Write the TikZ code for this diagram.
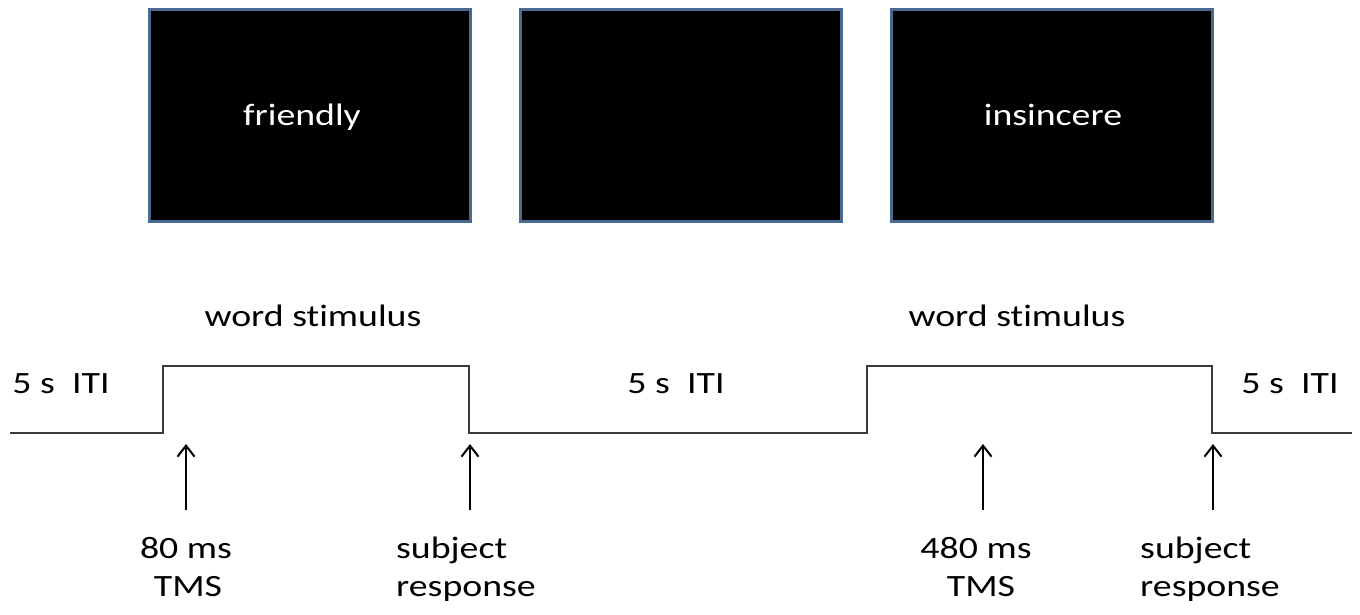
\documentclass[tikz,border=0pt]{standalone}
\usepackage{fontspec}
\usepackage{graphicx}
\setmainfont{Carlito}[Ligatures=NoCommon]
\usetikzlibrary{arrows.meta}
\definecolor{frameblue}{HTML}{4A6A94}
\definecolor{wave}{HTML}{3A3A3A}
% slightly widened lettering
\newcommand{\wide}[1]{\scalebox{1.22}[1]{#1}}
\tikzset{
  screen/.style={draw=frameblue, line width=3pt, fill=black, minimum width=321pt, minimum height=212pt, inner sep=0pt},
  screentext/.style={text=white, font=\fontsize{31}{36}\selectfont, anchor=base, inner sep=0pt},
  lbl/.style={font=\fontsize{31}{36}\selectfont, anchor=base, inner sep=0pt},
  lblleft/.style={lbl, anchor=base west},
  signal/.style={draw=wave, line width=2pt},
  marker/.style={draw=black, line width=2pt, -{Straight Barb[length=11pt, width=17pt, line width=2pt]}},
}
\begin{document}
\begin{tikzpicture}[x=1pt, y=-1pt]
\useasboundingbox (0,0) rectangle (1360,614);

% stimulus screens
\node[screen] (s1) at (310,115) {};
\node[screen] (s2) at (681,115) {};
\node[screen] (s3) at (1052,115) {};
\node[screentext] (w1) at (302,125) {\wide{friendly}};
\node[screentext] (w3) at (1053,125) {\wide{insincere}};

% trial timeline
\coordinate (t0) at (10,433);
\coordinate (t1) at (163,433);
\coordinate (t2) at (163,366);
\coordinate (t3) at (469,366);
\coordinate (t4) at (469,433);
\coordinate (t5) at (867,433);
\coordinate (t6) at (867,366);
\coordinate (t7) at (1212,366);
\coordinate (t8) at (1212,433);
\coordinate (t9) at (1352,433);
\draw[signal] (t0) -- (t1) -- (t2) -- (t3) -- (t4) -- (t5) -- (t6) -- (t7) -- (t8) -- (t9);

% phase labels
\node[lbl] (ws1) at (313,326) {\wide{word stimulus}};
\node[lbl] (ws2) at (1017,326) {\wide{word stimulus}};
\node[lbl] (iti1) at (61,393) {\wide{5 s\ \ ITI}};
\node[lbl] (iti2) at (676,393) {\wide{5 s\ \ ITI}};
\node[lbl] (iti3) at (1290,393) {\wide{5 s\ \ ITI}};

% event labels
\node[lbl] (e1a) at (186,558) {\wide{80 ms}};
\node[lbl] (e1b) at (188,596) {\wide{TMS}};
\node[lblleft] (e2a) at (396,558) {\wide{subject}};
\node[lblleft] (e2b) at (396,596) {\wide{response}};
\node[lbl] (e3a) at (976,558) {\wide{480 ms}};
\node[lbl] (e3b) at (981,596) {\wide{TMS}};
\node[lblleft] (e4a) at (1140,558) {\wide{subject}};
\node[lblleft] (e4b) at (1140,596) {\wide{response}};

% event markers
\coordinate (a1b) at (186,510); \coordinate (a1t) at (186,444);
\coordinate (a2b) at (470,510); \coordinate (a2t) at (470,444);
\coordinate (a3b) at (983,510); \coordinate (a3t) at (983,444);
\coordinate (a4b) at (1213,510); \coordinate (a4t) at (1213,444);
\draw[marker] (a1b) -- (a1t);
\draw[marker] (a2b) -- (a2t);
\draw[marker] (a3b) -- (a3t);
\draw[marker] (a4b) -- (a4t);
\end{tikzpicture}
\end{document}
